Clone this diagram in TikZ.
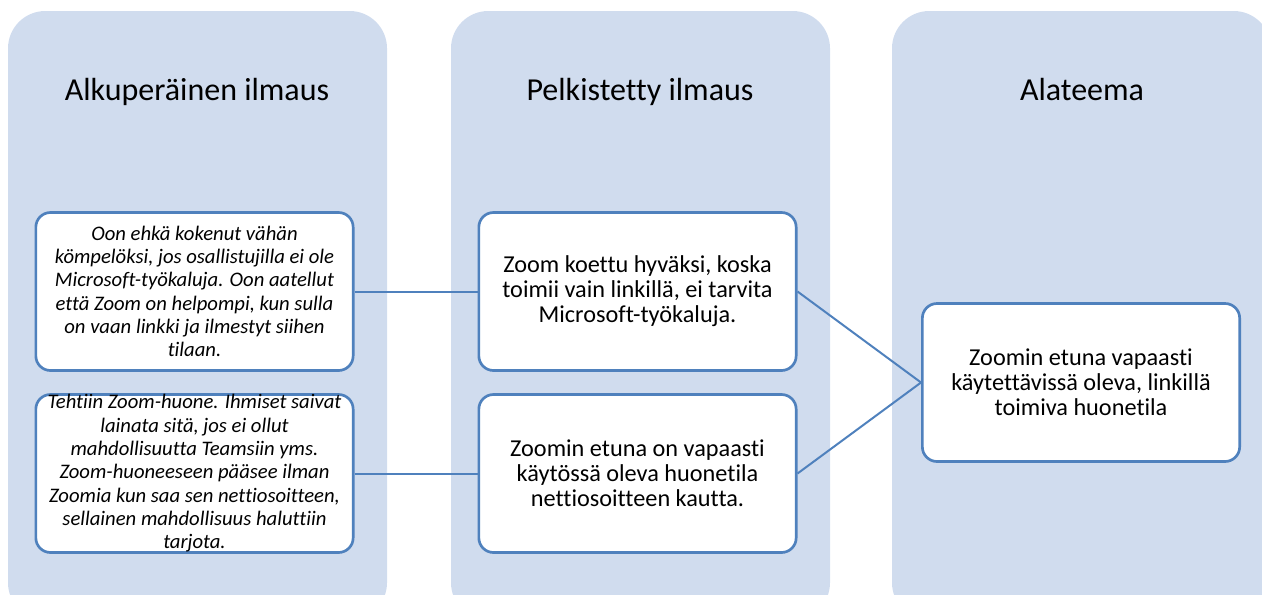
\documentclass[tikz,border=0pt]{standalone}
\usepackage{fontspec}
\setmainfont{Carlito}[Ligatures=NoCommon]
\definecolor{colfill}{RGB}{208,220,238}
\definecolor{linkblue}{RGB}{79,129,189}
\tikzset{every picture/.style={line width=0.75pt}}

\begin{document}
\begin{tikzpicture}[x=0.75pt,y=0.75pt,yscale=-1,xscale=1,
  column/.style={fill=colfill,draw=none,rounded corners=28pt},
  head/.style={anchor=base,inner sep=0pt,font=\fontsize{24}{28}\selectfont},
  cell/.style={draw=linkblue,line width=2pt,fill=white,rounded corners=11pt,minimum width=238pt,minimum height=118.5pt,inner sep=0pt,align=center,font=\fontsize{18.2}{18.75}\selectfont},
  quote/.style={cell,font=\fontsize{15.5}{17.5}\selectfont\itshape},
  link/.style={draw=linkblue,line width=1.5pt}]
\useasboundingbox (0,0) rectangle (1262,594);
\clip (0,0) rectangle (1262,594);
% columns
\fill[column] (8,11) rectangle (387,620);
\fill[column] (451,11) rectangle (830,620);
\fill[column] (892,11) rectangle (1271,620);
\node[head] (h1) at (197,100) {Alkuperäinen ilmaus};
\node[head] (h2) at (640,100) {Pelkistetty ilmaus};
\node[head] (h3) at (1082,100) {Alateema};
% boxes
\node[quote] (a1) at (194.5,291.5) {Oon ehkä kokenut vähän\\kömpelöksi, jos osallistujilla ei ole\\Microsoft-työkaluja. Oon aatellut\\että Zoom on helpompi, kun sulla\\on vaan linkki ja ilmestyt siihen\\tilaan.};
\node[quote] (a2) at (194.5,473.5) {Tehtiin Zoom-huone. Ihmiset saivat\\lainata sitä, jos ei ollut\\mahdollisuutta Teamsiin yms.\\Zoom-huoneeseen pääsee ilman\\Zoomia kun saa sen nettiosoitteen,\\sellainen mahdollisuus haluttiin\\tarjota.};
\node[cell] (b1) at (637.5,291.5) {Zoom koettu hyväksi, koska\\toimii vain linkillä, ei tarvita\\Microsoft-työkaluja.};
\node[cell] (b2) at (637.5,473.5) {Zoomin etuna on vapaasti\\käytössä oleva huonetila\\nettiosoitteen kautta.};
\node[cell] (c1) at (1081,382.5) {Zoomin etuna vapaasti\\käytettävissä oleva, linkillä\\toimiva huonetila};
% links
\draw[link] (a1.east) -- (b1.west);
\draw[link] (a2.east) -- (b2.west);
\draw[link] (b1.east) -- (c1.west);
\draw[link] (b2.east) -- (c1.west);
\end{tikzpicture}
\end{document}
